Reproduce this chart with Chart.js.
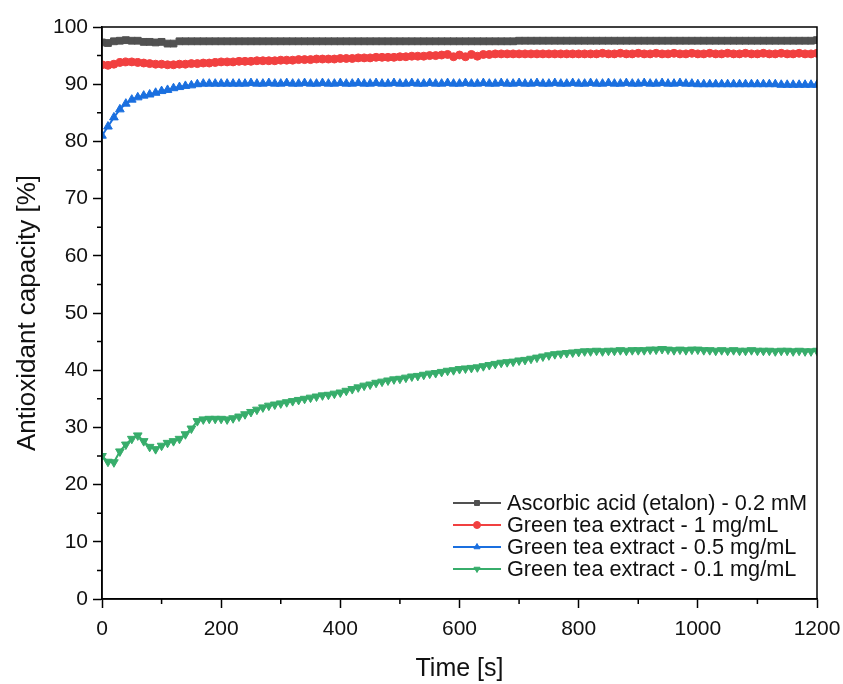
<!DOCTYPE html>
<html>
<head>
<meta charset="utf-8">
<title>Antioxidant capacity</title>
<script src="https://cdn.jsdelivr.net/npm/chart.js@4.4.1/dist/chart.umd.min.js"></script>
<style>
  body { margin: 0; background: #fff; }
  #chart { display: block; }
</style>
</head>
<body>
<canvas id="chart" width="843" height="684"></canvas>
<script>
// Time axis (s)
const times = [
    0, 10, 20, 30, 40, 50, 60, 70, 80, 90,
    100, 110, 120, 130, 140, 150, 160, 170, 180, 190,
    200, 210, 220, 230, 240, 250, 260, 270, 280, 290,
    300, 310, 320, 330, 340, 350, 360, 370, 380, 390,
    400, 410, 420, 430, 440, 450, 460, 470, 480, 490,
    500, 510, 520, 530, 540, 550, 560, 570, 580, 590,
    600, 610, 620, 630, 640, 650, 660, 670, 680, 690,
    700, 710, 720, 730, 740, 750, 760, 770, 780, 790,
    800, 810, 820, 830, 840, 850, 860, 870, 880, 890,
    900, 910, 920, 930, 940, 950, 960, 970, 980, 990,
    1000, 1010, 1020, 1030, 1040, 1050, 1060, 1070, 1080, 1090,
    1100, 1110, 1120, 1130, 1140, 1150, 1160, 1170, 1180, 1190,
    1200
];

// Ascorbic acid (etalon) - 0.2 mM
const ascorbic = [
    97.3, 97.2, 97.5, 97.6, 97.7, 97.6, 97.6, 97.4, 97.4, 97.3,
    97.4, 97.1, 97.1, 97.5, 97.5, 97.5, 97.5, 97.5, 97.5, 97.5,
    97.5, 97.5, 97.5, 97.5, 97.5, 97.5, 97.5, 97.5, 97.5, 97.5,
    97.5, 97.5, 97.5, 97.5, 97.5, 97.5, 97.5, 97.5, 97.5, 97.5,
    97.5, 97.5, 97.5, 97.5, 97.5, 97.5, 97.5, 97.5, 97.5, 97.5,
    97.5, 97.5, 97.5, 97.5, 97.5, 97.5, 97.5, 97.5, 97.5, 97.5,
    97.5, 97.5, 97.5, 97.5, 97.5, 97.5, 97.5, 97.5, 97.5, 97.5,
    97.6, 97.6, 97.6, 97.6, 97.6, 97.6, 97.6, 97.6, 97.6, 97.6,
    97.6, 97.6, 97.6, 97.6, 97.6, 97.6, 97.6, 97.6, 97.6, 97.6,
    97.6, 97.6, 97.6, 97.6, 97.6, 97.6, 97.6, 97.6, 97.6, 97.6,
    97.6, 97.6, 97.6, 97.6, 97.6, 97.6, 97.6, 97.6, 97.6, 97.6,
    97.6, 97.6, 97.6, 97.6, 97.6, 97.6, 97.6, 97.6, 97.6, 97.6,
    97.7
];

// Green tea extract - 1 mg/mL
const gte1 = [
    93.4, 93.3, 93.5, 93.8, 93.9, 93.9, 93.8, 93.7, 93.6, 93.5,
    93.5, 93.4, 93.4, 93.5, 93.5, 93.6, 93.6, 93.7, 93.7, 93.8,
    93.9, 93.9, 93.9, 94.0, 94.0, 94.0, 94.1, 94.1, 94.1, 94.1,
    94.2, 94.2, 94.2, 94.3, 94.3, 94.3, 94.4, 94.4, 94.4, 94.4,
    94.5, 94.5, 94.5, 94.6, 94.6, 94.6, 94.7, 94.7, 94.7, 94.7,
    94.8, 94.8, 94.9, 94.9, 94.9, 95.0, 95.0, 95.1, 95.2, 94.8,
    95.1, 94.8, 95.2, 94.9, 95.2, 95.2, 95.3, 95.3, 95.3, 95.3,
    95.3, 95.3, 95.3, 95.3, 95.3, 95.3, 95.3, 95.3, 95.3, 95.3,
    95.3, 95.3, 95.3, 95.3, 95.4, 95.3, 95.3, 95.4, 95.3, 95.3,
    95.4, 95.3, 95.3, 95.4, 95.3, 95.3, 95.4, 95.3, 95.3, 95.4,
    95.3, 95.3, 95.4, 95.3, 95.3, 95.4, 95.3, 95.3, 95.4, 95.3,
    95.3, 95.4, 95.3, 95.3, 95.4, 95.3, 95.3, 95.4, 95.3, 95.3,
    95.4
];

// Green tea extract - 0.5 mg/mL
const gte05 = [
    81.0, 82.6, 84.2, 85.6, 86.6, 87.3, 87.7, 88.0, 88.2, 88.5,
    88.8, 89.0, 89.3, 89.5, 89.7, 89.8, 90.0, 90.1, 90.1, 90.1,
    90.1, 90.1, 90.1, 90.1, 90.1, 90.2, 90.1, 90.1, 90.2, 90.1,
    90.1, 90.2, 90.1, 90.1, 90.2, 90.1, 90.1, 90.2, 90.1, 90.1,
    90.2, 90.1, 90.1, 90.2, 90.1, 90.1, 90.2, 90.1, 90.1, 90.2,
    90.1, 90.1, 90.2, 90.1, 90.1, 90.2, 90.1, 90.1, 90.2, 90.1,
    90.1, 90.2, 90.1, 90.1, 90.2, 90.1, 90.1, 90.2, 90.1, 90.1,
    90.2, 90.1, 90.1, 90.2, 90.1, 90.1, 90.2, 90.1, 90.1, 90.2,
    90.1, 90.1, 90.2, 90.1, 90.1, 90.2, 90.1, 90.1, 90.2, 90.1,
    90.1, 90.2, 90.1, 90.1, 90.2, 90.1, 90.1, 90.2, 90.1, 90.1,
    90.0, 90.0, 90.0, 90.0, 90.0, 90.0, 90.0, 90.0, 90.0, 90.0,
    90.0, 90.0, 90.0, 90.0, 89.9, 89.9, 89.9, 89.9, 89.9, 89.9,
    89.9
];

// Green tea extract - 0.1 mg/mL
const gte01 = [
    25.0, 24.0, 23.9, 25.8, 27.0, 28.0, 28.6, 27.6, 26.6, 26.2,
    26.8, 27.3, 27.6, 28.0, 28.8, 29.8, 31.1, 31.4, 31.5, 31.5,
    31.5, 31.4, 31.6, 31.9, 32.3, 32.7, 33.1, 33.5, 33.8, 34.0,
    34.2, 34.4, 34.6, 34.8, 35.0, 35.2, 35.4, 35.6, 35.7, 35.9,
    36.1, 36.4, 36.7, 37.0, 37.3, 37.5, 37.8, 38.0, 38.2, 38.4,
    38.5, 38.7, 38.9, 39.0, 39.2, 39.4, 39.5, 39.7, 39.9, 40.0,
    40.2, 40.3, 40.4, 40.5, 40.7, 40.9, 41.1, 41.3, 41.4, 41.5,
    41.7, 41.8, 42.0, 42.2, 42.4, 42.6, 42.8, 42.9, 43.0, 43.1,
    43.2, 43.3, 43.3, 43.4, 43.3, 43.4, 43.4, 43.5, 43.4, 43.5,
    43.5, 43.5, 43.6, 43.6, 43.7, 43.6, 43.5, 43.6, 43.5, 43.6,
    43.6, 43.5, 43.5, 43.4, 43.5, 43.4, 43.5, 43.4, 43.4, 43.5,
    43.4, 43.4, 43.4, 43.3, 43.4, 43.4, 43.3, 43.4, 43.3, 43.3,
    43.4
];

const seriesLabels = [
    'Ascorbic acid (etalon) - 0.2 mM',
    'Green tea extract - 1 mg/mL',
    'Green tea extract - 0.5 mg/mL',
    'Green tea extract - 0.1 mg/mL'
];

// Minor tick positions
const xMinorTicks = [100, 300, 500, 700, 900, 1100];
const yMinorTicks = [5, 15, 25, 35, 45, 55, 65, 75, 85, 95];

const FONT = "'Liberation Sans', Arial, sans-serif";

function toPoints(values) {
    return times.map((t, i) => ({ x: t, y: values[i] }));
}

function makeDataset(label, values, color, pointStyle, rotation, radius) {
    return {
        label: label,
        data: toPoints(values),
        borderColor: color,
        backgroundColor: color,
        pointBackgroundColor: color,
        pointBorderColor: color,
        borderWidth: 2,
        pointStyle: pointStyle,
        rotation: rotation,
        pointRadius: radius,
        pointBorderWidth: 1,
        tension: 0
    };
}

/**
 * Frame round the plot plus minor ticks
 */
const framePlugin = {
    id: 'frame',
    afterDraw(chart) {
        const ctx = chart.ctx;
        const area = chart.chartArea;
        const xs = chart.scales.x;
        const ys = chart.scales.y;
        ctx.save();
        ctx.strokeStyle = '#000';
        ctx.lineWidth = 1.5;
        ctx.strokeRect(area.left, area.top, area.right - area.left, area.bottom - area.top);
        ctx.beginPath();
        xMinorTicks.forEach(v => {
            const px = xs.getPixelForValue(v);
            ctx.moveTo(px, area.bottom);
            ctx.lineTo(px, area.bottom + 5);
        });
        yMinorTicks.forEach(v => {
            const py = ys.getPixelForValue(v);
            ctx.moveTo(area.left, py);
            ctx.lineTo(area.left - 5, py);
        });
        ctx.stroke();
        ctx.restore();
    }
};

/**
 * Legend in the lower right corner, line + marker samples
 */
const legendPlugin = {
    id: 'boxLegend',
    afterDraw(chart) {
        const ctx = chart.ctx;
        const area = chart.chartArea;
        const left = area.right - 364;
        const top = area.bottom - 96;
        const rowH = 22;
        ctx.save();
        ctx.font = '21.7px ' + FONT;
        ctx.textBaseline = 'middle';
        ctx.textAlign = 'left';
        chart.data.datasets.forEach((ds, i) => {
            const y = top + i * rowH;
            ctx.strokeStyle = ds.borderColor;
            ctx.fillStyle = ds.borderColor;
            ctx.lineWidth = 2;
            ctx.beginPath();
            ctx.moveTo(left, y);
            ctx.lineTo(left + 48, y);
            ctx.stroke();
            ctx.lineWidth = 1;
            Chart.helpers.drawPoint(ctx, {
                pointStyle: ds.pointStyle,
                rotation: ds.rotation,
                radius: 3.5,
                borderWidth: 1
            }, left + 24, y);
            ctx.fillStyle = '#111';
            ctx.fillText(ds.label, left + 54, y + 1);
        });
        ctx.restore();
    }
};

const ctx = document.getElementById('chart');

new Chart(ctx, {
    type: 'line',
    data: {
        datasets: [
            makeDataset(seriesLabels[0], ascorbic, '#515151', 'rect', 0, 4.8),
            makeDataset(seriesLabels[1], gte1, '#F14040', 'circle', 0, 4),
            makeDataset(seriesLabels[2], gte05, '#1A6FDF', 'triangle', 0, 5),
            makeDataset(seriesLabels[3], gte01, '#37AD6B', 'triangle', 180, 5)
        ]
    },
    options: {
        responsive: false,
        animation: false,
        layout: {
            padding: { top: 27, right: 26, left: 0, bottom: 0 }
        },
        plugins: {
            legend: { display: false },
            tooltip: { enabled: false }
        },
        scales: {
            x: {
                type: 'linear',
                min: 0,
                max: 1200,
                ticks: {
                    stepSize: 200,
                    color: '#111',
                    font: { family: FONT, size: 21 },
                    padding: 9,
                    maxRotation: 0,
                    callback: value => String(value)
                },
                grid: {
                    drawOnChartArea: false,
                    tickLength: 9,
                    tickWidth: 1.5,
                    tickColor: '#000'
                },
                border: { display: true, color: '#000', width: 1.5 },
                title: {
                    display: true,
                    text: 'Time [s]',
                    color: '#111',
                    font: { family: FONT, size: 25 },
                    padding: { top: 2, bottom: 0 }
                },
                afterFit(scale) {
                    scale.height = 85;
                    scale.paddingLeft = 0;
                    scale.paddingRight = 0;
                }
            },
            y: {
                min: 0,
                max: 100,
                ticks: {
                    stepSize: 10,
                    color: '#111',
                    font: { family: FONT, size: 21 },
                    padding: 5
                },
                grid: {
                    drawOnChartArea: false,
                    tickLength: 9,
                    tickWidth: 1.5,
                    tickColor: '#000'
                },
                border: { display: true, color: '#000', width: 1.5 },
                title: {
                    display: true,
                    text: 'Antioxidant capacity [%]',
                    color: '#111',
                    font: { family: FONT, size: 26 },
                    padding: { top: 12, bottom: 4 }
                },
                afterFit(scale) {
                    scale.width = 102;
                    scale.paddingTop = 0;
                    scale.paddingBottom = 0;
                }
            }
        }
    },
    plugins: [framePlugin, legendPlugin]
});
</script>
</body>
</html>
